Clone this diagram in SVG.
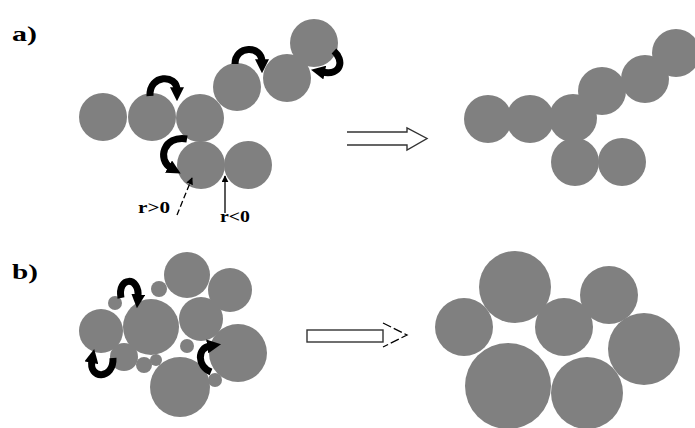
<svg xmlns="http://www.w3.org/2000/svg" width="695" height="428" viewBox="0 0 695 428">
<defs>
<style>
.c{fill:#808080}
.rot{fill:none;stroke:#000;stroke-width:7;stroke-linecap:butt}
.lbl{font-family:"Liberation Serif","Times New Roman",serif;font-weight:bold;fill:#000}
.hollow{fill:#fff;stroke:#333;stroke-width:1.4}
.thin{stroke:#000;stroke-width:1.3;fill:none}
</style>
<marker id="rh" viewBox="0 0 10 10" refX="2" refY="5" markerWidth="2" markerHeight="2" orient="auto" markerUnits="strokeWidth">
<path d="M0,0 L10,5 L0,10 Z" fill="#000"/>
</marker>
<marker id="sh" viewBox="0 0 10 10" refX="9" refY="5" markerWidth="7" markerHeight="7" orient="auto" markerUnits="userSpaceOnUse">
<path d="M0,0 L10,5 L0,10 Z" fill="#000"/>
</marker>
</defs>

<g id="label-a"><text class="lbl" x="12" y="41" font-size="22" textLength="25" lengthAdjust="spacingAndGlyphs">a)</text></g>
<g id="label-b"><text class="lbl" x="12" y="279" font-size="22" textLength="26" lengthAdjust="spacingAndGlyphs">b)</text></g>

<g id="chain-a-before">
<circle class="c" cx="103" cy="117" r="24"/>
<circle class="c" cx="152" cy="117" r="24"/>
<circle class="c" cx="200" cy="118" r="24"/>
<circle class="c" cx="237" cy="87" r="24"/>
<circle class="c" cx="287" cy="78" r="24"/>
<circle class="c" cx="314" cy="43" r="24"/>
<circle class="c" cx="201" cy="165" r="24"/>
<circle class="c" cx="248" cy="165" r="24"/>
</g>

<g id="chain-a-after">
<circle class="c" cx="488" cy="119" r="24"/>
<circle class="c" cx="530" cy="119" r="24"/>
<circle class="c" cx="573" cy="118" r="24"/>
<circle class="c" cx="602" cy="91" r="24"/>
<circle class="c" cx="645" cy="79" r="24"/>
<circle class="c" cx="676" cy="53" r="24"/>
<circle class="c" cx="575" cy="162" r="24"/>
<circle class="c" cx="622" cy="162" r="24"/>
</g>

<g id="cluster-b-before">
<circle class="c" cx="187" cy="275" r="23"/>
<circle class="c" cx="230" cy="290" r="22"/>
<circle class="c" cx="159" cy="289" r="8"/>
<circle class="c" cx="115" cy="303" r="7"/>
<circle class="c" cx="101" cy="331" r="22"/>
<circle class="c" cx="201" cy="319" r="22"/>
<circle class="c" cx="238" cy="353" r="29"/>
<circle class="c" cx="124" cy="357" r="14"/>
<circle class="c" cx="144" cy="365" r="8"/>
<circle class="c" cx="156" cy="360" r="6"/>
<circle class="c" cx="151" cy="327" r="28"/>
<circle class="c" cx="187" cy="346" r="7"/>
<circle class="c" cx="215" cy="380" r="7"/>
<circle class="c" cx="180" cy="387" r="30"/>
</g>

<g id="cluster-b-after">
<circle class="c" cx="515" cy="287" r="36"/>
<circle class="c" cx="464" cy="327" r="29"/>
<circle class="c" cx="564" cy="327" r="29"/>
<circle class="c" cx="609" cy="295" r="29"/>
<circle class="c" cx="644" cy="349" r="36"/>
<circle class="c" cx="508" cy="386" r="43"/>
<circle class="c" cx="587" cy="393" r="36"/>
</g>

<g id="connectors">
<path class="rot" d="M150,96 C149,74 177,74 177,90" marker-end="url(#rh)"/>
<path class="rot" d="M187,139 C163,135 157,160 171,168" marker-end="url(#rh)"/>
<path class="rot" d="M235,64 C235,45 262,45 262,62" marker-end="url(#rh)"/>
<path class="rot" d="M334,51 C344,60 342,76 322,72" marker-end="url(#rh)"/>
<path class="rot" d="M121,298 C117,276 140,276 138,297" marker-end="url(#rh)"/>
<path class="rot" d="M113,358 C114,380 88,380 92,360" marker-end="url(#rh)"/>
<path class="rot" d="M211,372 C197,366 197,348 210,346" marker-end="url(#rh)"/>
<path class="thin" d="M177,215 L192,178" stroke-dasharray="6,3" marker-end="url(#sh)"/>
<path class="thin" d="M225,213 L225,176" marker-end="url(#sh)"/>
<path class="hollow" d="M347,132 L407,132 L407,128 L427,138.5 L407,150 L407,145 L347,145"/>
<rect class="hollow" x="307" y="330" width="76" height="12"/>
<path class="thin" d="M383,323 L407,335 L383,347" stroke="#222" stroke-dasharray="9,3"/>
</g>

<g id="r-labels">
<text class="lbl" x="138" y="213" font-size="16" textLength="32" lengthAdjust="spacingAndGlyphs">r&gt;0</text>
<text class="lbl" x="220" y="222" font-size="16" textLength="30" lengthAdjust="spacingAndGlyphs">r&lt;0</text>
</g>
</svg>
